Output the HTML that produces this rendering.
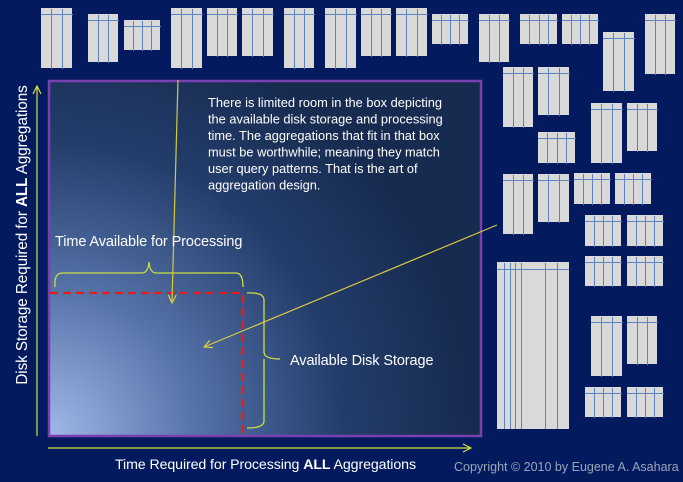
<!DOCTYPE html>
<html><head><meta charset="utf-8"><style>
html,body{margin:0;padding:0;background:#031b5e;}
body{width:683px;height:482px;overflow:hidden;position:relative;font-family:"Liberation Sans",sans-serif;}
svg{position:absolute;left:0;top:0;}
</style></head><body>
<svg width="683" height="482" viewBox="0 0 683 482" xmlns="http://www.w3.org/2000/svg">
<defs>
<radialGradient id="g" cx="48" cy="436" r="420" gradientUnits="userSpaceOnUse">
<stop offset="0" stop-color="#a2b8e8"/>
<stop offset="0.35" stop-color="#5673a8"/>
<stop offset="0.7" stop-color="#233d6b"/>
<stop offset="1" stop-color="#172b50"/>
</radialGradient>
<marker id="ah" markerWidth="10" markerHeight="10" refX="9" refY="5" orient="auto" markerUnits="userSpaceOnUse">
<path d="M1,1 L9,5 L1,9" fill="none" stroke="#d8d040" stroke-width="1.2"/>
</marker>
<marker id="ah2" markerWidth="10" markerHeight="10" refX="9" refY="5" orient="auto" markerUnits="userSpaceOnUse">
<path d="M1,1 L9,5 L1,9" fill="none" stroke="#d4e040" stroke-width="1.2"/>
</marker>
</defs>
<rect width="683" height="482" fill="#031b5e"/>
<g id="boxes" fill="#d9d9d9" stroke="none"></g>
<rect x="49" y="81" width="432" height="355" fill="url(#g)" stroke="#7a3fb0" stroke-width="2.5"/>
<line x1="37" y1="436" x2="37" y2="86" stroke="#d4e040" stroke-width="1.2" marker-end="url(#ah2)"/>
<line x1="48" y1="448" x2="471" y2="448" stroke="#d4e040" stroke-width="1.2" marker-end="url(#ah2)"/>
<path d="M50,293 H243 V436" fill="none" stroke="#e02020" stroke-width="2.2" stroke-dasharray="8,5"/>
<path d="M55,287 Q54,273 62,273 H142 Q148,273 149,262 Q150,273 156,273 H236 Q243,273 243,287" fill="none" stroke="#c8e040" stroke-width="1.3"/>
<path d="M247,293 Q264,292 264,300 V352 Q264,359 280,359 M264,359 V421 Q264,428 247,428" fill="none" stroke="#c8e040" stroke-width="1.3"/>
<line x1="178" y1="80" x2="172" y2="303" stroke="#d8c840" stroke-width="1.2" marker-end="url(#ah)"/>
<line x1="497" y1="225" x2="204" y2="347" stroke="#d8c840" stroke-width="1.2" marker-end="url(#ah)"/>
<g fill="#ffffff" font-family="Liberation Sans, sans-serif" font-size="12.8">
<text x="208" y="107" textLength="234" lengthAdjust="spacingAndGlyphs">There is limited room in the box depicting</text>
<text x="208" y="123.5">the available disk storage and processing</text>
<text x="208" y="140">time. The aggregations that fit in that box</text>
<text x="208" y="156.5">must be worthwhile; meaning they match</text>
<text x="208" y="173">user query patterns. That is the art of</text>
<text x="208" y="189.5">aggregation design.</text>
</g>
<g fill="#ffffff" font-size="14.5" font-family="Liberation Sans, sans-serif" letter-spacing="-0.1">
<text x="55" y="246">Time Available for Processing</text>
<text x="290" y="365">Available Disk Storage</text>
<text x="115" y="469" font-size="14.2">Time Required for Processing <tspan font-weight="bold">ALL</tspan> Aggregations</text>
<text transform="translate(27,235) rotate(-90)" text-anchor="middle" font-size="15.3">Disk Storage Required for <tspan font-weight="bold">ALL</tspan> Aggregations</text>
</g>
<text x="454" y="471" fill="#9aa4b8" font-size="12.5" font-family="Liberation Sans, sans-serif">Copyright © 2010 by Eugene A. Asahara</text>
</svg>
<script>
var B=[[41,8,31,60],[88,14,30,48],[124,20,36,30],[171,8,31,60],[207,8,30,48],[242,8,31,48],[284,8,30,60],[325,8,31,60],[361,8,30,48],[396,8,31,48],[432,14,36,30],[479,14,30,48],[520,14,37,30],[562,14,36,30],[603,32,31,59],[645,14,30,60],
[503,67,30,60],[538,67,31,48],[591,103,31,60],[627,103,30,48],[538,132,37,31],
[503,174,30,60],[538,174,31,48],[574,173,36,31],[615,173,36,31],[585,215,36,31],[627,215,36,31],
[585,256,36,30],[627,256,36,30],[591,316,31,60],[627,316,30,48],[585,387,36,30],[627,387,36,30]];
var g=document.getElementById('boxes'),s='';
B.forEach(function(b){var x=b[0],y=b[1],w=b[2],h=b[3];
s+='<rect x="'+x+'" y="'+y+'" width="'+w+'" height="'+h+'" fill="#d9d9d9"/>';
s+='<line x1="'+x+'" y1="'+(y+6.5)+'" x2="'+(x+w+1)+'" y2="'+(y+6.5)+'" stroke="#5b84c0" stroke-width="1"/>';
var n=w>33?3:2;for(var i=1;i<=n;i++){var lx=Math.round(x+w*i/(n+1))+0.5;
s+='<line x1="'+lx+'" y1="'+(y+1)+'" x2="'+lx+'" y2="'+(y+h+1)+'" stroke="#5b84c0" stroke-width="1"/>';}
});
var x=497,y=262,w=72,h=167;
s+='<rect x="'+x+'" y="'+y+'" width="'+w+'" height="'+h+'" fill="#d9d9d9"/>';
s+='<line x1="'+x+'" y1="'+(y+7.5)+'" x2="'+(x+w)+'" y2="'+(y+7.5)+'" stroke="#5b84c0"/>';
[504,510,515,521,545,557].forEach(function(lx){s+='<line x1="'+(lx+0.5)+'" y1="'+(y+1)+'" x2="'+(lx+0.5)+'" y2="'+(y+h)+'" stroke="#5b84c0"/>';});
g.innerHTML=s;
</script>
</body></html>
